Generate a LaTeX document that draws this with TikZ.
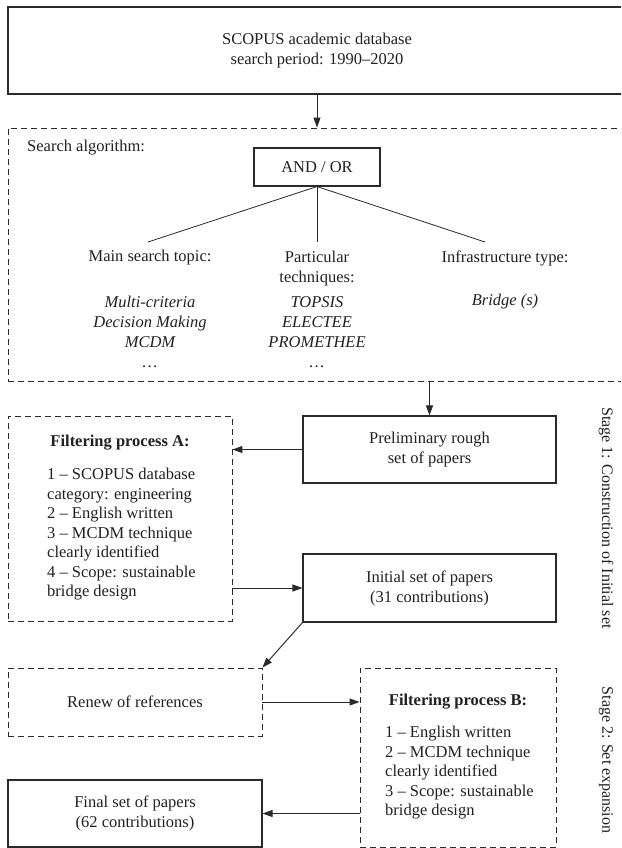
\documentclass[tikz,border=0pt]{standalone}
\usepackage{fontspec}
\setmainfont{Liberation Serif}
\usetikzlibrary{arrows.meta}
\definecolor{ln}{HTML}{2A2A2A}
\definecolor{tx}{HTML}{231F20}
\tikzset{
  every node/.style={font=\fontsize{16.5}{20}\selectfont, text=tx, inner sep=0pt},
  solidbox/.style={draw=ln, line width=1.1pt, rectangle},
  dashbox/.style={draw=ln, line width=0.9pt, dash pattern=on 6pt off 4pt, rectangle},
  arr/.style={draw=ln, line width=1pt, -{Triangle[length=10pt,width=7pt]}},
  plainline/.style={draw=ln, line width=0.8pt},
  itlist/.style={align=center, font=\fontsize{16.5}{20}\selectfont\itshape},
  itemlist/.style={align=left, anchor=west, font=\fontsize{16.5}{19.5}\selectfont},
  boldtitle/.style={font=\fontsize{16.5}{20}\selectfont\bfseries},
}
\begin{document}
\begin{tikzpicture}[x=1pt,y=-1pt]
\clip (0,0) rectangle (621,848);
% top box
\node[solidbox, minimum width=618pt, minimum height=87pt, align=center] (top) at (317,50.5)
  {SCOPUS academic database\\search period: 1990–2020};
% search algorithm dashed box
\node[dashbox, minimum width=618pt, minimum height=253pt] (search) at (317,254.5) {};
\node[anchor=west] (alglabel) at (27,148) {Search algorithm:};
\node[solidbox, minimum width=126pt, minimum height=38pt] (andor) at (317,167) {AND / OR};
\coordinate (e1) at (148,242);
\coordinate (e2) at (317,242);
\coordinate (e3) at (485,242);
\draw[plainline] (andor.south) -- (e1);
\draw[plainline] (andor.south) -- (e2);
\draw[plainline] (andor.south) -- (e3);
\node (t1) at (150,258) {Main search topic:};
\node[align=center] (t2) at (317,268.5) {Particular\\techniques:};
\node (t3) at (505,258) {Infrastructure type:};
\node[itlist] (k1) at (150,332) {Multi-criteria\\Decision Making\\MCDM\\\ldots};
\node[itlist] (k2) at (317,332) {TOPSIS\\ELECTEE\\PROMETHEE\\\ldots};
\node[itlist] (k3) at (505,302) {Bridge (s)};
\draw[arr] (top.south) -- (top.south |- search.north);
% preliminary
\node[solidbox, minimum width=253pt, minimum height=67pt, align=center] (prelim) at (429.5,449.5)
  {Preliminary rough\\set of papers};
\draw[arr] (prelim.north |- search.south) -- (prelim.north);
% filter A
\node[dashbox, minimum width=224pt, minimum height=205pt] (filterA) at (120,518.5) {};
\node[boldtitle] (titleA) at (120,443) {Filtering process A:};
\node[itemlist] (listA) at (47,534.5) {1 – SCOPUS database\\category: engineering\\2 – English written\\3 – MCDM technique\\clearly identified\\4 – Scope: sustainable\\bridge design};
\draw[arr] (prelim.west) -- (prelim.west -| filterA.east);
% initial
\node[solidbox, minimum width=253pt, minimum height=68pt, align=center] (initial) at (429.5,588)
  {Initial set of papers\\(31 contributions)};
\draw[arr] (filterA.east |- initial.west) -- (initial.west);
% renew
\node[dashbox, minimum width=254pt, minimum height=68pt] (renew) at (135,702) {Renew of references};
\draw[arr] (initial.south west) -- (renew.north east);
% filter B
\node[dashbox, minimum width=196pt, minimum height=179pt] (filterB) at (458,757.5) {};
\node[boldtitle] (titleB) at (458,702) {Filtering process B:};
\node[itemlist] (listB) at (385,773) {1 – English written\\2 – MCDM technique\\clearly identified\\3 – Scope: sustainable\\bridge design};
\draw[arr] (renew.east) -- (renew.east -| filterB.west);
% final
\node[solidbox, minimum width=254pt, minimum height=67pt, align=center] (final) at (135,813.5)
  {Final set of papers\\(62 contributions)};
\draw[arr] (filterB.west |- final.east) -- (final.east);
% stage labels
\node[rotate=-90, font=\fontsize{16}{20}\selectfont] (s1) at (606,518) {Stage 1: Construction of Initial set};
\node[rotate=-90, font=\fontsize{16}{20}\selectfont] (s2) at (606,760) {Stage 2: Set expansion};
\end{tikzpicture}
\end{document}
